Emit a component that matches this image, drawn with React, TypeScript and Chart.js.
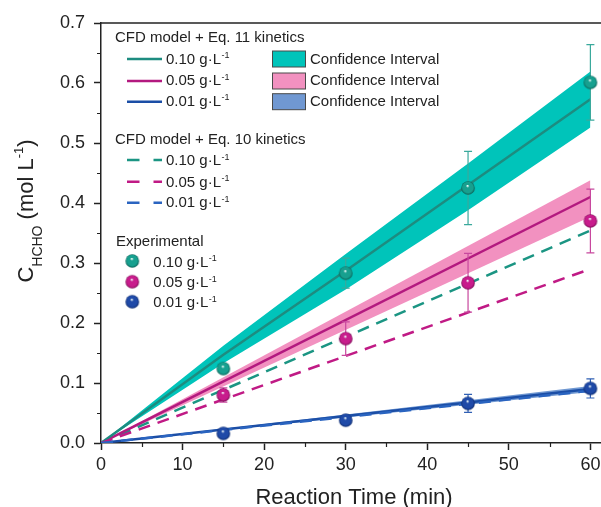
import React, { useEffect, useRef } from 'react';
import { Chart, registerables } from 'chart.js';

Chart.register(...registerables);

const FONT = '"Liberation Sans", Arial, Helvetica, sans-serif';

// Experimental data
const timeMin = [15, 30, 45, 60];
const exp010 = [0.124, 0.283, 0.425, 0.601];
const exp010Err = [0.004, 0.025, 0.061, 0.063];
const exp005 = [0.08, 0.174, 0.267, 0.37];
const exp005Err = [0.012, 0.028, 0.049, 0.053];
const exp001 = [0.016, 0.038, 0.066, 0.091];
const exp001Err = [0.003, 0.005, 0.015, 0.016];

// Model lines (CFD + Eq. 11 kinetics, with confidence intervals)
const modelTimeFine = [0, 15, 30, 45, 60];
const eq11_010 = [0, 0.147, 0.287, 0.43, 0.573];
const eq11_010Upper = [0, 0.162, 0.315, 0.466, 0.619];
const eq11_010Lower = [0, 0.133, 0.256, 0.388, 0.526];
const modelTime = [0, 60];
const eq11_005 = [0, 0.41];
const eq11_005Upper = [0, 0.438];
const eq11_005Lower = [0, 0.377];
const eq11_001 = [0, 0.09];
const eq11_001Upper = [0, 0.095];
const eq11_001Lower = [0, 0.085];

// Model lines (CFD + Eq. 10 kinetics)
const eq10_010 = [0, 0.354];
const eq10_005 = [0, 0.29];
const eq10_001 = [0, 0.087];

// Labels
const xTickValues = [0, 10, 20, 30, 40, 50, 60];
const seriesLabels = ['0.10 g·L', '0.05 g·L', '0.01 g·L'];
const supLabel = '-1';
const legendHeaders = ['CFD model + Eq. 11 kinetics', 'CFD model + Eq. 10 kinetics', 'Experimental'];
const ciLabel = 'Confidence Interval';
const xTitle = 'Reaction Time (min)';

const colors = {
  line: ['#1d8c80', '#b3197f', '#1b4ea6'],
  band: ['#00c4ba', '#f291c0', '#7098d2'],
  dash: ['#1b9583', '#c01a85', '#2a64c0'],
  marker: ['#17a08f', '#c81c8c', '#1f4aa8'],
  markerDark: ['#0b6257', '#7d0d56', '#0e2b6e'],
  err: ['#3aa99c', '#c8489e', '#3060b4'],
};

function makeSphere(base: string, dark: string, r = 6.8): HTMLCanvasElement {
  const size = Math.ceil(r * 2) + 2;
  const c = document.createElement('canvas');
  c.width = size;
  c.height = size;
  const ctx = c.getContext('2d')!;
  const cx = size / 2;
  const cy = size / 2;
  const g = ctx.createRadialGradient(cx - 0.5, cy - 2.3, 0.3, cx, cy, r);
  g.addColorStop(0, '#f4fffd');
  g.addColorStop(0.22, base);
  g.addColorStop(0.75, base);
  g.addColorStop(1, dark);
  ctx.fillStyle = g;
  ctx.beginPath();
  ctx.arc(cx, cy, r, 0, Math.PI * 2);
  ctx.fill();
  return c;
}

const xy = (xs: number[], ys: number[]) => xs.map((x, i) => ({ x, y: ys[i] }));

export default function App() {
  const ref = useRef<HTMLCanvasElement>(null);

  useEffect(() => {
    document.body.style.margin = '0';
    const canvas = ref.current!;
    const spheres = [0, 1, 2].map((i) => makeSphere(colors.marker[i], colors.markerDark[i]));
    const expVals = [exp010, exp005, exp001];
    const expErrs = [exp010Err, exp005Err, exp001Err];
    const solidTimes = [modelTimeFine, modelTime, modelTime];
    const solids = [eq11_010, eq11_005, eq11_001];
    const uppers = [eq11_010Upper, eq11_005Upper, eq11_001Upper];
    const lowers = [eq11_010Lower, eq11_005Lower, eq11_001Lower];
    const dashes = [eq10_010, eq10_005, eq10_001];

    const datasets: any[] = [];
    for (let i = 0; i < 3; i++) {
      datasets.push({
        kind: 'bandLower',
        data: xy(solidTimes[i], lowers[i]),
        borderWidth: 0,
        pointRadius: 0,
        fill: false,
        order: 10,
      });
      datasets.push({
        kind: 'band',
        data: xy(solidTimes[i], uppers[i]),
        borderWidth: 0,
        pointRadius: 0,
        fill: '-1',
        backgroundColor: colors.band[i],
        order: 10,
      });
    }
    for (let i = 0; i < 3; i++) {
      datasets.push({
        kind: 'dash',
        data: xy(modelTime, dashes[i]),
        borderColor: colors.dash[i],
        borderWidth: 2.5,
        borderDash: [12, 8],
        pointRadius: 0,
        fill: false,
        order: 6 - i,
      });
    }
    for (let i = 0; i < 3; i++) {
      datasets.push({
        kind: 'solid',
        data: xy(solidTimes[i], solids[i]),
        borderColor: colors.line[i],
        borderWidth: 2.5,
        pointRadius: 0,
        fill: false,
        order: 5,
      });
    }
    for (let i = 0; i < 3; i++) {
      datasets.push({
        kind: 'exp',
        data: xy(timeMin, expVals[i]),
        showLine: false,
        pointStyle: spheres[i],
        pointRadius: 6.8,
        borderWidth: 0,
        fill: false,
        order: 1,
      });
    }

    let errDrawn = false;
    const custom = {
      id: 'custom',
      beforeDraw() {
        errDrawn = false;
      },
      beforeDatasetDraw(chart: any, args: any) {
        const ds = chart.data.datasets[args.index];
        if (ds.kind !== 'exp' || errDrawn) return;
        errDrawn = true;
        const ctx = chart.ctx;
        const xs = chart.scales.x;
        const ys = chart.scales.y;
        ctx.save();
        ctx.lineWidth = 1.2;
        for (let s = 0; s < 3; s++) {
          ctx.strokeStyle = colors.err[s];
          for (let k = 0; k < timeMin.length; k++) {
            const px = xs.getPixelForValue(timeMin[k]);
            const top = ys.getPixelForValue(expVals[s][k] + expErrs[s][k]);
            const bot = ys.getPixelForValue(expVals[s][k] - expErrs[s][k]);
            ctx.beginPath();
            ctx.moveTo(px, top);
            ctx.lineTo(px, bot);
            ctx.moveTo(px - 4, top);
            ctx.lineTo(px + 4, top);
            ctx.moveTo(px - 4, bot);
            ctx.lineTo(px + 4, bot);
            ctx.stroke();
          }
        }
        ctx.restore();
      },
      afterDraw(chart: any) {
        const ctx = chart.ctx;
        const area = chart.chartArea;
        const xs = chart.scales.x;
        const ys = chart.scales.y;
        ctx.save();
        // top frame
        ctx.strokeStyle = '#222';
        ctx.lineWidth = 1.5;
        ctx.beginPath();
        ctx.moveTo(area.left, area.top);
        ctx.lineTo(area.right, area.top);
        ctx.stroke();
        // minor ticks
        ctx.lineWidth = 1.2;
        ctx.beginPath();
        for (let v = 5; v < 61; v += 10) {
          const px = Math.round(xs.getPixelForValue(v)) + 0.5;
          ctx.moveTo(px, area.bottom);
          ctx.lineTo(px, area.bottom + 4);
        }
        for (let v = 0.05; v < 0.7; v += 0.1) {
          const py = Math.round(ys.getPixelForValue(v)) + 0.5;
          ctx.moveTo(area.left, py);
          ctx.lineTo(area.left - 4, py);
        }
        ctx.stroke();

        // x tick labels
        ctx.fillStyle = '#222';
        ctx.font = `18px ${FONT}`;
        ctx.textAlign = 'center';
        ctx.textBaseline = 'alphabetic';
        xTickValues.forEach((v) => {
          ctx.fillText(String(v), xs.getPixelForValue(v), 470);
        });

        // x title
        ctx.font = `22px ${FONT}`;
        ctx.fillText(xTitle, 354, 504);

        // y title (rotated) : C_HCHO (mol L^-1)
        const big = `22px ${FONT}`;
        const sub = `14px ${FONT}`;
        const sup = `13px ${FONT}`;
        ctx.textAlign = 'left';
        const parts = [
          { t: 'C', f: big, dy: 0 },
          { t: 'HCHO', f: sub, dy: 9 },
          { t: ' (mol L', f: big, dy: 0 },
          { t: supLabel, f: sup, dy: -10 },
          { t: ')', f: big, dy: 0 },
        ];
        let total = 0;
        const widths = parts.map((p) => {
          ctx.font = p.f;
          const w = ctx.measureText(p.t).width;
          total += w;
          return w;
        });
        ctx.translate(33, 211 + total / 2);
        ctx.rotate(-Math.PI / 2);
        let cx = 0;
        parts.forEach((p, i) => {
          ctx.font = p.f;
          ctx.fillText(p.t, cx, p.dy);
          cx += widths[i];
        });
        ctx.restore();

        // legend
        ctx.save();
        ctx.fillStyle = '#222';
        ctx.textAlign = 'left';
        ctx.textBaseline = 'alphabetic';
        const drawLabel = (x: number, y: number, main: string) => {
          ctx.font = `15px ${FONT}`;
          ctx.fillStyle = '#222';
          ctx.fillText(main, x, y);
          const w = ctx.measureText(main).width;
          ctx.font = `9px ${FONT}`;
          ctx.fillText(supLabel, x + w + 0.5, y - 5.5);
        };
        ctx.font = `15px ${FONT}`;
        ctx.fillText(legendHeaders[0], 115, 42);
        ctx.fillText(legendHeaders[1], 115, 143.5);
        ctx.fillText(legendHeaders[2], 116, 246);

        const solidRows = [59, 81, 101.7];
        const solidBase = [63.5, 85.2, 105.9];
        for (let i = 0; i < 3; i++) {
          ctx.strokeStyle = colors.line[i];
          ctx.lineWidth = 2.5;
          ctx.setLineDash([]);
          ctx.beginPath();
          ctx.moveTo(127, solidRows[i]);
          ctx.lineTo(162, solidRows[i]);
          ctx.stroke();
          drawLabel(166, solidBase[i], seriesLabels[i]);
          ctx.fillStyle = colors.band[i];
          ctx.fillRect(272.5, solidRows[i] - 8, 33, 16);
          ctx.strokeStyle = '#4a4a4a';
          ctx.lineWidth = 1;
          ctx.strokeRect(272.5, solidRows[i] - 8, 33, 16);
          ctx.fillStyle = '#222';
          ctx.font = `15px ${FONT}`;
          ctx.fillText(ciLabel, 310, solidBase[i]);
        }
        const dashRows = [160, 181.7, 202.7];
        const dashBase = [165, 186.7, 207];
        for (let i = 0; i < 3; i++) {
          ctx.strokeStyle = colors.dash[i];
          ctx.lineWidth = 2.5;
          ctx.setLineDash([12.5, 14]);
          ctx.beginPath();
          ctx.moveTo(127, dashRows[i]);
          ctx.lineTo(162, dashRows[i]);
          ctx.stroke();
          ctx.setLineDash([]);
          drawLabel(166, dashBase[i], seriesLabels[i]);
        }
        const expRows = [261, 281.7, 301.7];
        const expBase = [266.7, 287, 307.3];
        for (let i = 0; i < 3; i++) {
          const s = spheres[i];
          ctx.drawImage(s, 132.3 - s.width / 2, expRows[i] - s.height / 2);
          drawLabel(153.3, expBase[i], seriesLabels[i]);
        }
        ctx.restore();
      },
    };

    const chart = new Chart(canvas, {
      type: 'line',
      data: { datasets },
      options: {
        animation: false,
        responsive: false,
        devicePixelRatio: 1,
        events: [],
        layout: { autoPadding: false, padding: { top: 23, right: 0, left: 0, bottom: 0 } },
        plugins: {
          legend: { display: false },
          tooltip: { enabled: false },
          filler: { propagate: false },
        },
        elements: { line: { tension: 0 } },
        scales: {
          x: {
            type: 'linear',
            min: 0,
            max: 61.3,
            ticks: {
              display: false,
              stepSize: 10,
              includeBounds: false,
              autoSkip: false,
            },
            grid: {
              display: true,
              drawOnChartArea: false,
              tickLength: 7,
              tickWidth: 1.5,
              tickColor: '#222',
            },
            border: { display: true, color: '#222', width: 1.5 },
            afterFit: (s: any) => {
              s.height = 64;
            },
          },
          y: {
            type: 'linear',
            min: 0,
            max: 0.7,
            ticks: {
              stepSize: 0.1,
              includeBounds: false,
              autoSkip: false,
              color: '#222',
              padding: 9,
              font: { family: FONT, size: 18 },
              callback: (v: any) => Number(v).toFixed(1),
            },
            grid: {
              display: true,
              drawOnChartArea: false,
              tickLength: 7,
              tickWidth: 1.5,
              tickColor: '#222',
            },
            border: { display: true, color: '#222', width: 1.5 },
            afterFit: (s: any) => {
              s.width = 101;
            },
          },
        },
      } as any,
      plugins: [custom],
    });

    return () => chart.destroy();
  }, []);

  return (
    <div style={{ width: 601, height: 507 }}>
      <canvas ref={ref} width={601} height={507} style={{ display: 'block' }} />
    </div>
  );
}
